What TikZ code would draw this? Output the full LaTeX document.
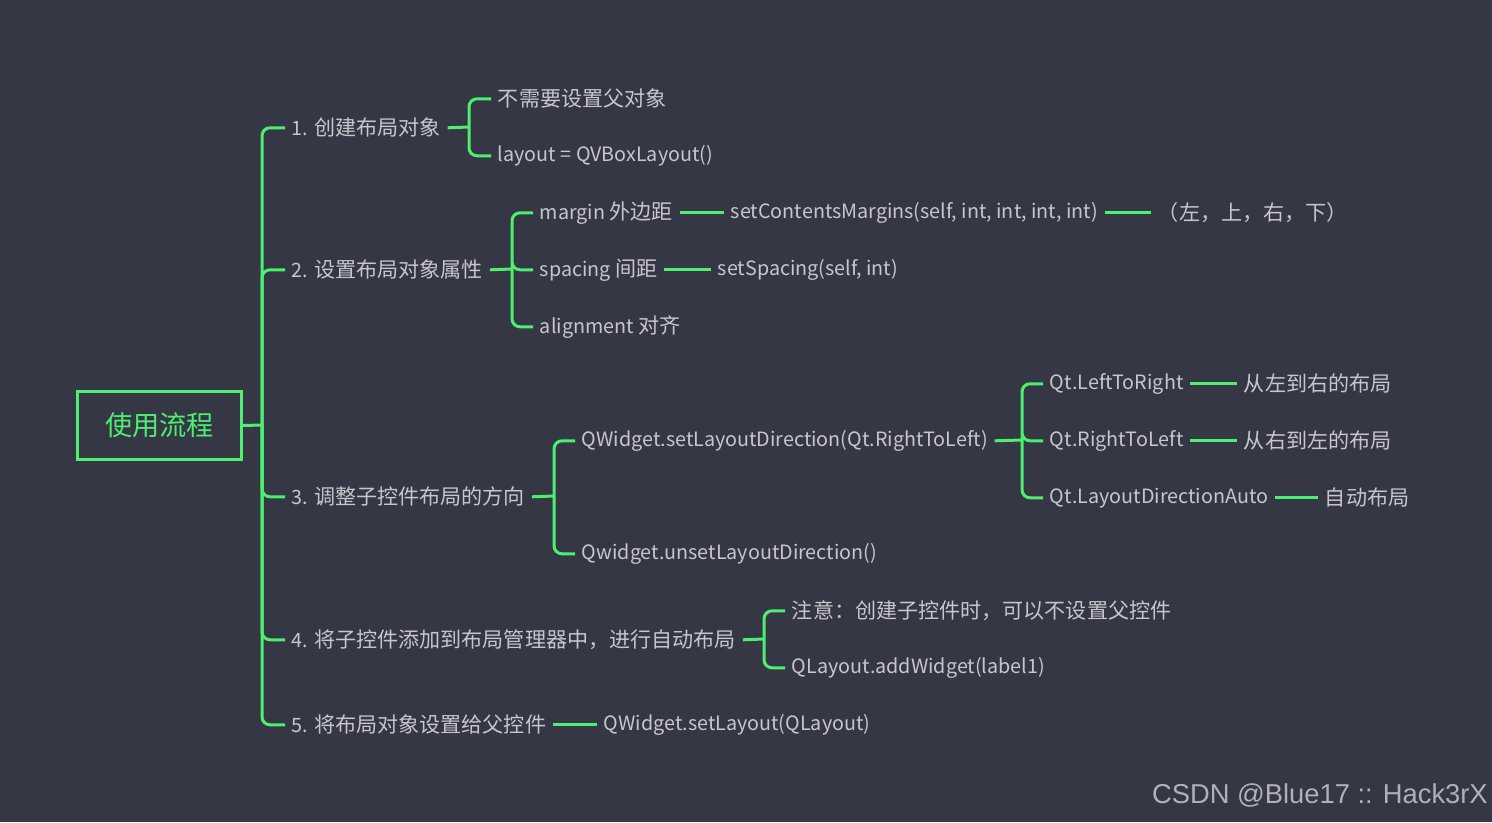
\documentclass[tikz,border=0pt]{standalone}
\usepackage{fontspec}
\setmainfont{Noto Sans CJK SC}[Scale=0.955]
\newfontfamily\zhfont{Noto Sans CJK SC}[Scale=1.02]
\newfontfamily\wmfont{Liberation Sans}
\newcommand\zhtext[1]{{\zhfont #1}}
\definecolor{mapbg}{HTML}{353744}
\definecolor{mapgreen}{HTML}{4CEF6E}
\definecolor{maptext}{HTML}{C6C6CC}
\tikzset{
  link/.style={draw=mapgreen, line width=2.25pt},
  fork/.style={link, rounded corners=6pt},
  leaf/.style={anchor=west, text=maptext, inner xsep=5pt, inner ysep=2pt, yshift=-0.6pt, font=\fontsize{15.5}{18}\selectfont},
  rootbox/.style={draw=mapgreen, line width=2.25pt, text=mapgreen, minimum width=123pt, minimum height=51pt, font=\zhfont\fontsize{20}{24}\selectfont}
}

\begin{document}
\begin{tikzpicture}[x=0.75pt, y=-0.75pt]
  \fill[mapbg] (0,0) rectangle (1492,822);
  \useasboundingbox (0,0) rectangle (1492,822);
  \node[rootbox] (root) at (159.5,425.5) {使用流程};
  % spine coordinates of the brackets
  \coordinate (t0) at (262,425); \coordinate (b1) at (469,127); \coordinate (b2) at (512,269);
  \coordinate (b3) at (554,496); \coordinate (b4) at (1022,440); \coordinate (b5) at (764,639);
  % first level
  \node[leaf] (s1) at (285,127) {1. \zhtext{创建布局对象}};
  \node[leaf] (s2) at (285,269) {2. \zhtext{设置布局对象属性}};
  \node[leaf] (s3) at (285,496) {3. \zhtext{调整子控件布局的方向}};
  \node[leaf] (s4) at (285,639) {4. \zhtext{将子控件添加到布局管理器中，进行自动布局}};
  \node[leaf] (s5) at (285,724) {5. \zhtext{将布局对象设置给父控件}};
  \draw[link] (root.east) -- (t0);
  \foreach \n in {s1,s2,s3,s4,s5} \draw[fork] (t0) |- (\n.west);
  % 1
  \node[leaf] (s1a) at (491,98) {\zhtext{不需要设置父对象}};
  \node[leaf] (s1b) at (491,155) {layout = QVBoxLayout()};
  \draw[link] (s1.east) -- (b1);
  \draw[fork] (b1) |- (s1a.west) (b1) |- (s1b.west);
  % 2
  \node[leaf] (s2a) at (533,212) {margin \zhtext{外边距}};
  \node[leaf] (s2b) at (533,269) {spacing \zhtext{间距}};
  \node[leaf] (s2c) at (533,326) {alignment \zhtext{对齐}};
  \node[leaf] (m1) at (724,212) {setContentsMargins(self, int, int, int, int)};
  \node[leaf] (m2) at (1151,212) {\zhtext{（左，上，右，下）}};
  \node[leaf] (sp1) at (711,269) {setSpacing(self, int)};
  \draw[link] (s2.east) -- (b2);
  \draw[fork] (b2) |- (s2a.west) (b2) |- (s2b.west) (b2) |- (s2c.west);
  \draw[link] (s2a.east) -- (m1.west) (m1.east) -- (m2.west) (s2b.east) -- (sp1.west);
  % 3
  \node[leaf] (s3a) at (575,440) {QWidget.setLayoutDirection(Qt.RightToLeft)};
  \node[leaf] (s3b) at (575,553) {Qwidget.unsetLayoutDirection()};
  \node[leaf] (d1) at (1043,383) {Qt.LeftToRight};
  \node[leaf] (d2) at (1043,440) {Qt.RightToLeft};
  \node[leaf] (d3) at (1043,497) {Qt.LayoutDirectionAuto};
  \node[leaf] (e1) at (1237,383) {\zhtext{从左到右的布局}};
  \node[leaf] (e2) at (1237,440) {\zhtext{从右到左的布局}};
  \node[leaf] (e3) at (1318,497) {\zhtext{自动布局}};
  \draw[link] (s3.east) -- (b3) (s3a.east) -- (b4);
  \draw[fork] (b3) |- (s3a.west) (b3) |- (s3b.west);
  \draw[fork] (b4) |- (d1.west) (b4) |- (d2.west) (b4) |- (d3.west);
  \draw[link] (d1.east) -- (e1.west) (d2.east) -- (e2.west) (d3.east) -- (e3.west);
  % 4 and 5
  \node[leaf] (s4a) at (785,610) {\zhtext{注意：创建子控件时，可以不设置父控件}};
  \node[leaf] (s4b) at (785,667) {QLayout.addWidget(label1)};
  \node[leaf] (s5a) at (597,724) {QWidget.setLayout(QLayout)};
  \draw[link] (s4.east) -- (b5);
  \draw[fork] (b5) |- (s4a.west) (b5) |- (s4b.west);
  \draw[link] (s5.east) -- (s5a.west);
  \node[anchor=east, text=maptext!85!mapbg, inner sep=0pt, font=\wmfont\fontsize{20.5}{24}\selectfont] (mark) at (1488,795) {CSDN @Blue17 :: Hack3rX};
\end{tikzpicture}
\end{document}
